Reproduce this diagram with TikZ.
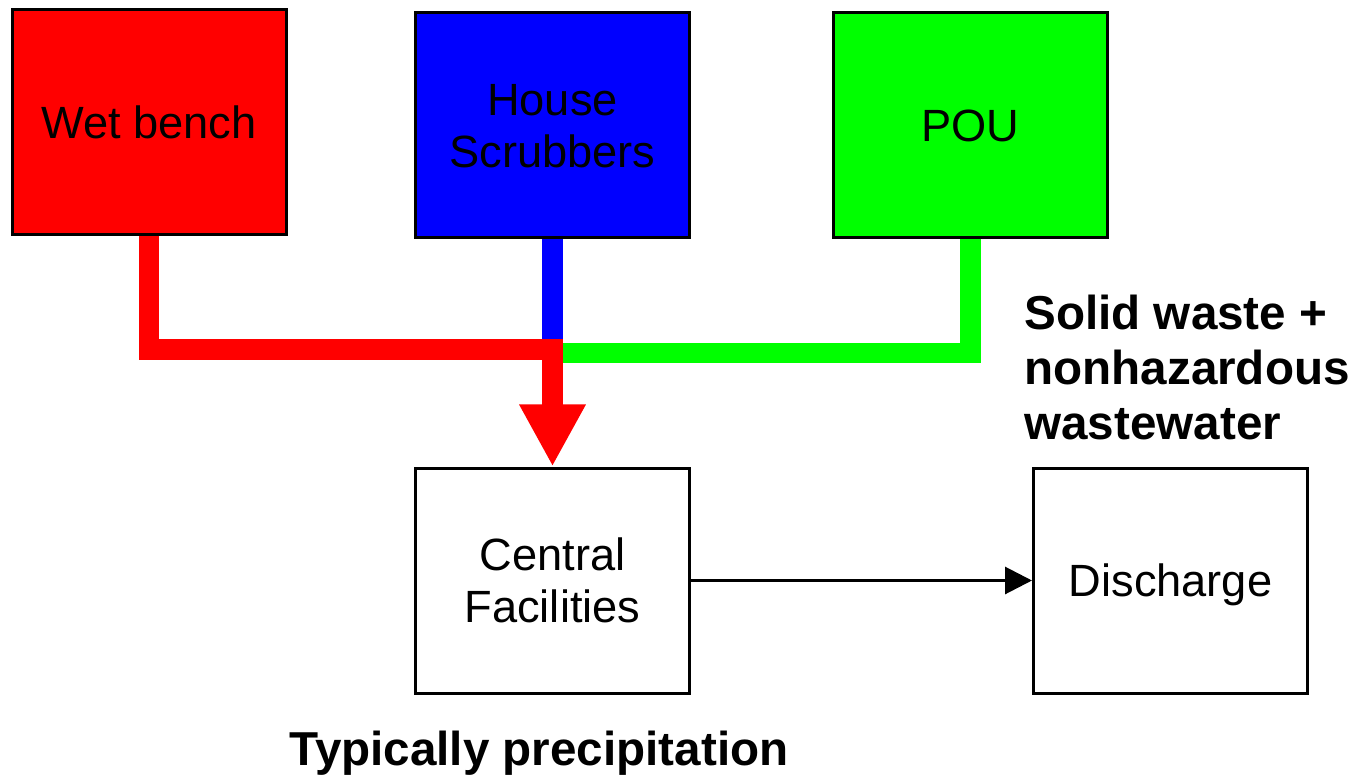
\documentclass[tikz,border=0pt]{standalone}
\usepackage{fontspec}
\setmainfont{Liberation Sans}
\usetikzlibrary{positioning}
\usetikzlibrary{arrows.meta}
\tikzset{
    mynode/.style = {rectangle, line width=1.5pt, draw=black, align=center, fill=white, minimum width=137pt, minimum height=112.5pt, inner sep=0pt, text depth=0pt, font=\fontsize{22.6}{26}\selectfont},
    mynoder/.style = {mynode, fill=red},
    mynodeb/.style = {mynode, fill=blue},
    mynodeg/.style = {mynode, fill=green},
    piper/.style = {line width=10.25pt, red, -{Triangle[length=31pt,width=31pt]}},
    pipeb/.style = {line width=10.25pt, blue},
    pipeg/.style = {line width=10.25pt, green},
    edgen/.style = {line width=1.5pt, -{Triangle[length=13.5pt,width=13.5pt]}},
    mylabel/.style = {align=left, inner sep=0pt, font=\fontsize{23.8}{27.5}\selectfont\bfseries}
}
\begin{document}
\begin{tikzpicture}[x=0.5pt, y=-0.5pt]
  \useasboundingbox (0,0) rectangle (1361,775);
  % sources
  \node[mynoder] (wet) at (149,122) {Wet bench};
  \node[mynodeb] (house) at (552.5,125.5) {House\\Scrubbers};
  \node[mynodeg, right=70.5pt of house] (pou) {POU};
  % treatment
  \node[mynode, below=113.5pt of house] (central) {Central\\Facilities};
  \node[mynode, right=170.5pt of central] (discharge) {Discharge};
  % pipes
  \coordinate (jr) at (552.5,349.5);
  \coordinate (jg) at (552.5,353);
  \draw[pipeb] (house.south) -- (jr);
  \draw[pipeg] (pou.south) |- (jg);
  \draw[piper] (wet.south) |- (jr) -- (central.north);
  \draw[edgen] (central.east) -- (discharge.west);
  % labels
  \node[mylabel, anchor=north west] (solid) at (1024,295) {Solid waste +\\nonhazardous\\wastewater};
  \node[mylabel, anchor=base] (typical) at (539,765) {Typically precipitation};
\end{tikzpicture}
\end{document}
